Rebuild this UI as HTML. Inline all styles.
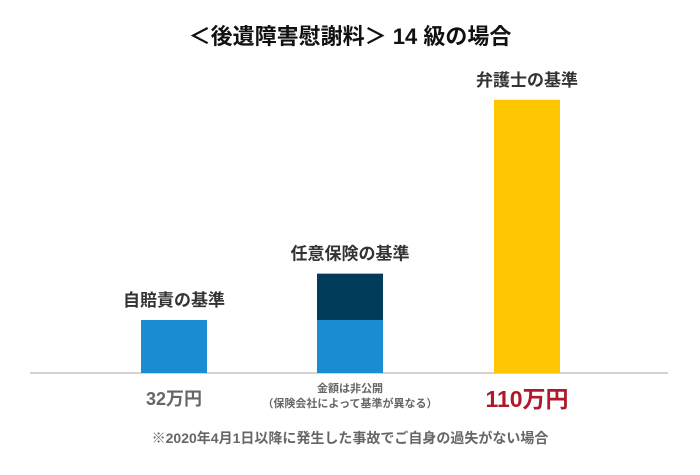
<!DOCTYPE html>
<html><head><meta charset="utf-8"><style>
body{margin:0;background:#fff;}
svg text{font-family:"Liberation Sans","Noto Sans CJK JP",sans-serif;font-weight:bold;}
</style></head><body>
<svg width="700" height="470" xmlns="http://www.w3.org/2000/svg">
<text x="350" y="44" text-anchor="middle" font-size="22" fill="#111">＜後遺障害慰謝料＞ 14 級の場合</text>
<line x1="30" y1="373" x2="668" y2="373" stroke="#d3d3d3" stroke-width="2"/>
<g id="bars"></g>
<text x="174" y="405" text-anchor="middle" font-size="18" fill="#666">32万円</text>
<text x="350" y="392" text-anchor="middle" font-size="11" fill="#666">金額は非公開</text>
<text x="350" y="407" text-anchor="middle" font-size="11" fill="#666">（保険会社によって基準が異なる）</text>
<text x="527" y="407" text-anchor="middle" font-size="23" fill="#b0182c">110万円</text>
<text x="350" y="443" text-anchor="middle" font-size="14" fill="#666">※2020年4月1日以降に発生した事故でご自身の過失がない場合</text>
</svg>
<script>
const categories = ["自賠責の基準", "任意保険の基準", "弁護士の基準"];
const baseValues = [32, 32, 165];
const upperValues = [0, 28, 0];
const baseColors = ["#1a8dd2", "#1a8dd2", "#fec600"];
const centers = [174, 350, 527];
const y0 = 373, pxPer = 1.656, bw = 66;
function yScale(v){ return y0 - v * pxPer; }
const g = document.getElementById('bars');
const ns = "http://www.w3.org/2000/svg";
categories.forEach((c, i) => {
  const b = document.createElementNS(ns, 'rect');
  b.setAttribute('x', centers[i] - bw/2);
  b.setAttribute('y', yScale(baseValues[i]));
  b.setAttribute('width', bw);
  b.setAttribute('height', y0 - yScale(baseValues[i]));
  b.setAttribute('fill', baseColors[i]);
  
  
  g.appendChild(b);
  let top = baseValues[i];
  if (upperValues[i] > 0) {
    const u = document.createElementNS(ns, 'rect');
    u.setAttribute('x', centers[i] - bw/2);
    u.setAttribute('y', yScale(baseValues[i] + upperValues[i]));
    u.setAttribute('width', bw);
    u.setAttribute('height', upperValues[i] * pxPer);
    u.setAttribute('fill', '#023a5a');
    
    
    g.appendChild(u);
    top += upperValues[i];
  }
  const t = document.createElementNS(ns, 'text');
  t.setAttribute('x', centers[i]);
  t.setAttribute('y', yScale(top) - 14);
  t.setAttribute('text-anchor', 'middle');
  t.setAttribute('font-size', '17');
  t.setAttribute('fill', '#333');
  
  
  t.textContent = c;
  g.appendChild(t);
});
</script>
</body></html>
